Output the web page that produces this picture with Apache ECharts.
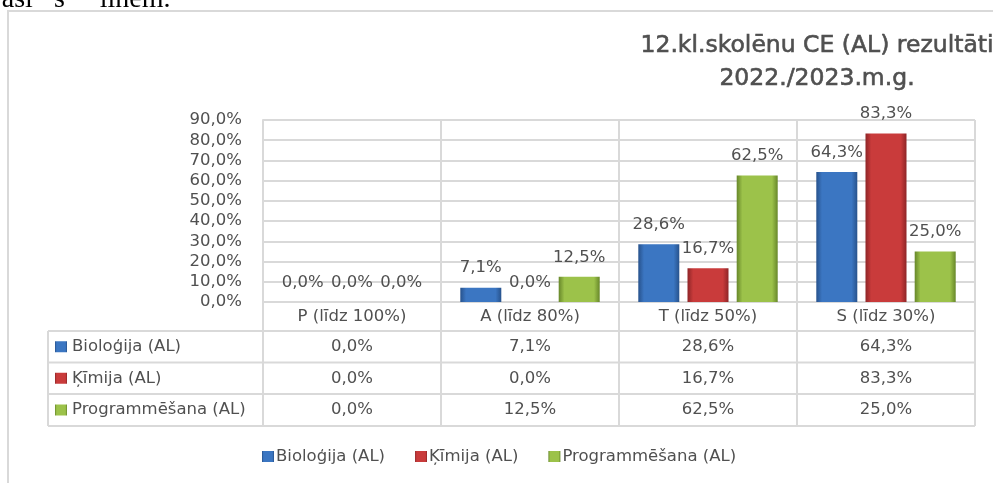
<!DOCTYPE html>
<html>
<head>
<meta charset="utf-8">
<script src="https://cdn.jsdelivr.net/npm/echarts@6/dist/echarts.min.js"></script>
<style>
  html, body { margin: 0; padding: 0; background: #fff; }
  #chart { width: 993px; height: 483px; }
</style>
</head>
<body>
<div id="chart"></div>
<script>
// data
const categories = ["P (līdz 100%)", "A (līdz 80%)", "T (līdz 50%)", "S (līdz 30%)"];
const seriesNames = ["Bioloģija (AL)", "Ķīmija (AL)", "Programmēšana (AL)"];
const biologija = [0.0, 7.1, 28.6, 64.3];
const kimija = [0.0, 0.0, 16.7, 83.3];
const programmesana = [0.0, 12.5, 62.5, 25.0];
const yMin = 0;
const yMax = 90;
const yStep = 10;
const titleLines = ["12.kl.skolēnu CE (AL) rezultāti", "2022./2023.m.g."];

const values = [biologija, kimija, programmesana];
const palette = [
  { main: "#3b76c2", dark: "#27528c" },
  { main: "#c93b3b", dark: "#8e2527" },
  { main: "#9cc24a", dark: "#67872a" }
];

const FONT = "DejaVu Sans";
const TEXT = "#505050";
const LINE = "#d9d9d9";

const fmt = v => v.toFixed(1).replace(".", ",") + "%";

function barFill(c) {
  return new echarts.graphic.LinearGradient(0, 0, 1, 0, [
    { offset: 0, color: c.dark },
    { offset: 0.14, color: c.main },
    { offset: 0.86, color: c.main },
    { offset: 1, color: c.dark }
  ]);
}

const chart = echarts.init(document.getElementById("chart"));

chart.setOption({
  animation: false,
  textStyle: { fontFamily: FONT },
  grid: { left: 263, right: 18, top: 120, height: 182 },
  legend: {
    data: seriesNames,
    left: 257,
    top: 443,
    itemWidth: 12,
    itemHeight: 11,
    itemGap: 30,
    icon: "rect",
    textStyle: { fontFamily: FONT, fontSize: 16.5, color: TEXT, padding: [0, 0, 0, -3] }
  },
  xAxis: {
    type: "category",
    data: categories,
    axisLine: { show: true, lineStyle: { color: LINE, width: 2 } },
    axisTick: { show: true, length: 29, interval: 0, lineStyle: { color: LINE, width: 2 } },
    splitLine: { show: true, interval: 0, lineStyle: { color: LINE, width: 2 } },
    axisLabel: { interval: 0, margin: 6, fontFamily: FONT, fontSize: 16.5, color: TEXT }
  },
  yAxis: {
    type: "value",
    min: yMin,
    max: yMax,
    interval: yStep,
    axisLine: { show: true, lineStyle: { color: LINE, width: 2 } },
    axisTick: { show: false },
    splitLine: { lineStyle: { color: LINE, width: 2 } },
    axisLabel: { margin: 21, fontFamily: FONT, fontSize: 16.5, color: TEXT, formatter: fmt }
  },
  series: seriesNames.map((name, i) => ({
    name: name,
    type: "bar",
    data: values[i],
    barWidth: 41,
    barGap: "20%",
    itemStyle: { color: barFill(palette[i]) },
    label: {
      show: true,
      position: "top",
      distance: 11,
      fontFamily: FONT,
      fontSize: 16.5,
      color: TEXT,
      formatter: p => fmt(p.value)
    }
  }))
});

// data table under the axis, columns taken from the category axis
const centers = categories.map(c => chart.convertToPixel({ xAxisIndex: 0 }, c));
const band = centers[1] - centers[0];
const edgesX = [centers[0] - band / 2].concat(centers.map(c => c + band / 2));
const tableLeft = 48;
const rowEdges = [331, 362.5, 394, 426];
const lineStyle = { stroke: LINE, lineWidth: 2 };

const tableEls = [];
rowEdges.forEach(y => {
  tableEls.push({ type: "line", shape: { x1: tableLeft, y1: y, x2: edgesX[edgesX.length - 1], y2: y }, style: lineStyle, silent: true });
});
[tableLeft].concat(edgesX).forEach(x => {
  tableEls.push({ type: "line", shape: { x1: x, y1: rowEdges[0], x2: x, y2: rowEdges[rowEdges.length - 1] }, style: lineStyle, silent: true });
});
seriesNames.forEach((name, r) => {
  const cy = (rowEdges[r] + rowEdges[r + 1]) / 2;
  tableEls.push({
    type: "rect",
    shape: { x: 55, y: cy - 5.5, width: 12, height: 11 },
    style: { fill: barFill(palette[r]) },
    silent: true
  });
  tableEls.push({
    type: "text",
    x: 72, y: cy,
    style: { text: name, fontFamily: FONT, fontSize: 16.5, fill: TEXT, verticalAlign: "middle", align: "left" },
    silent: true
  });
  values[r].forEach((v, c) => {
    tableEls.push({
      type: "text",
      x: centers[c], y: cy,
      style: { text: fmt(v), fontFamily: FONT, fontSize: 16.5, fill: TEXT, verticalAlign: "middle", align: "center" },
      silent: true
    });
  });
});

const titleStyle = { fontFamily: FONT, fontSize: 23.5, fill: TEXT, stroke: TEXT, lineWidth: 0.6, align: "center", verticalAlign: "middle" };

chart.setOption({
  graphic: [
    {
      type: "text",
      x: -6, y: 14,
      style: { text: "jāsi   s     līnēm.", fontFamily: "Liberation Serif", fontSize: 28, fill: "#000", verticalAlign: "bottom" },
      silent: true
    },
    {
      type: "rect",
      shape: { x: 8, y: 11, width: 1100, height: 600 },
      style: { fill: null, stroke: LINE, lineWidth: 2 },
      silent: true
    },
    {
      type: "text",
      x: 817, y: 46,
      style: Object.assign({ text: titleLines[0] }, titleStyle),
      silent: true
    },
    {
      type: "text",
      x: 817, y: 79,
      style: Object.assign({ text: titleLines[1] }, titleStyle),
      silent: true
    }
  ].concat(tableEls)
});
</script>
</body>
</html>
